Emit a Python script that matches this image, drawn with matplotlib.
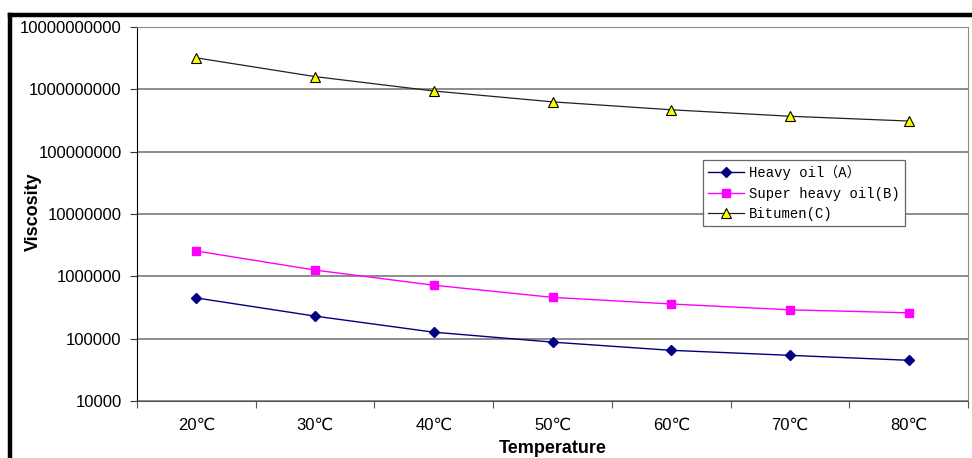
import matplotlib
matplotlib.use("Agg")
import matplotlib.pyplot as plt
from matplotlib.lines import Line2D
from matplotlib.ticker import FixedLocator, NullFormatter, NullLocator

# temperatures (categories) and viscosity
temps = ["20℃", "30℃", "40℃", "50℃", "60℃", "70℃", "80℃"]
heavy_oil = [4.5e5, 2.3e5, 1.27e5, 8.8e4, 6.5e4, 5.4e4, 4.5e4]
super_heavy = [2.55e6, 1.26e6, 7.2e5, 4.6e5, 3.6e5, 2.9e5, 2.6e5]
bitumen = [3.2e9, 1.6e9, 9.4e8, 6.3e8, 4.7e8, 3.7e8, 3.1e8]
ytick_vals = [1e4, 1e5, 1e6, 1e7, 1e8, 1e9, 1e10]

tick_font = ["Liberation Sans", "DejaVu Sans"]
legend_font = ["Liberation Mono", "Noto Sans CJK SC"]

fig = plt.figure(figsize=(9.72, 4.58), dpi=100)
ax = fig.add_axes([137 / 972, 1 - 401 / 458, (968 - 137) / 972, (401 - 27) / 458])

x = list(range(len(temps)))
ax.plot(x, heavy_oil, color="#000080", lw=1, marker="D", ms=5.5,
        mfc="#000080", mec="#000080", label="Heavy oil（A）")
ax.plot(x, super_heavy, color="#FF00FF", lw=1, marker="s", ms=6,
        mfc="#FF00FF", mec="#FF00FF", label="Super heavy oil(B)")
ax.plot(x, bitumen, color="#222222", lw=0.9, marker="^", ms=7,
        mfc="#FFFF00", mec="#000000", mew=0.8, label="Bitumen(C)")

ax.set_yscale("log")
ax.set_ylim(1e4, 1e10)
ax.yaxis.set_major_locator(FixedLocator(ytick_vals))
ax.yaxis.set_minor_locator(NullLocator())
ax.set_yticklabels([str(int(v)) for v in ytick_vals], fontsize=12, family=tick_font)
ax.grid(axis="y", color="#8c8c8c", lw=1.4)
ax.set_axisbelow(True)

# x ticks sit between categories, labels at categories
ax.set_xlim(-0.5, len(temps) - 0.5)
ax.xaxis.set_major_locator(FixedLocator([i - 0.5 for i in range(len(temps) + 1)]))
ax.xaxis.set_major_formatter(NullFormatter())
ax.xaxis.set_minor_locator(FixedLocator(x))
ax.set_xticklabels(temps, minor=True, fontsize=12, family=tick_font)
ax.tick_params(axis="x", which="minor", length=0, pad=12)
ax.tick_params(axis="x", which="major", length=5, color="#555555")
ax.tick_params(axis="y", length=5, color="#333333", pad=6)

for side in ["top", "right"]:
    ax.spines[side].set_color("#8c8c8c")
ax.spines["bottom"].set_color("#555555")
ax.spines["left"].set_color("#000000")

ax.set_ylabel("Viscosity", fontsize=13, fontweight="bold", family=tick_font)
ax.yaxis.set_label_coords(-0.114, 0.505)
ax.set_xlabel("Temperature", fontsize=13, fontweight="bold", family=tick_font, labelpad=5)

leg = ax.legend(loc="upper left", bbox_to_anchor=(0.681, 0.644), borderaxespad=0,
                fancybox=False, edgecolor="#666666", framealpha=1,
                prop={"family": legend_font, "size": 10},
                handlelength=2.6, handletextpad=0.35, labelspacing=0.45,
                borderpad=0.38)
leg.get_frame().set_linewidth(0.9)

# thick outer frame, top and left
fig.add_artist(Line2D([10 / 972, 1], [1 - 15 / 458, 1 - 15 / 458], color="black", lw=3.2,
                      transform=fig.transFigure))
fig.add_artist(Line2D([10 / 972, 10 / 972], [0, 1 - 15 / 458], color="black", lw=3.2,
                      transform=fig.transFigure))

fig.savefig("out.png", dpi=100)
